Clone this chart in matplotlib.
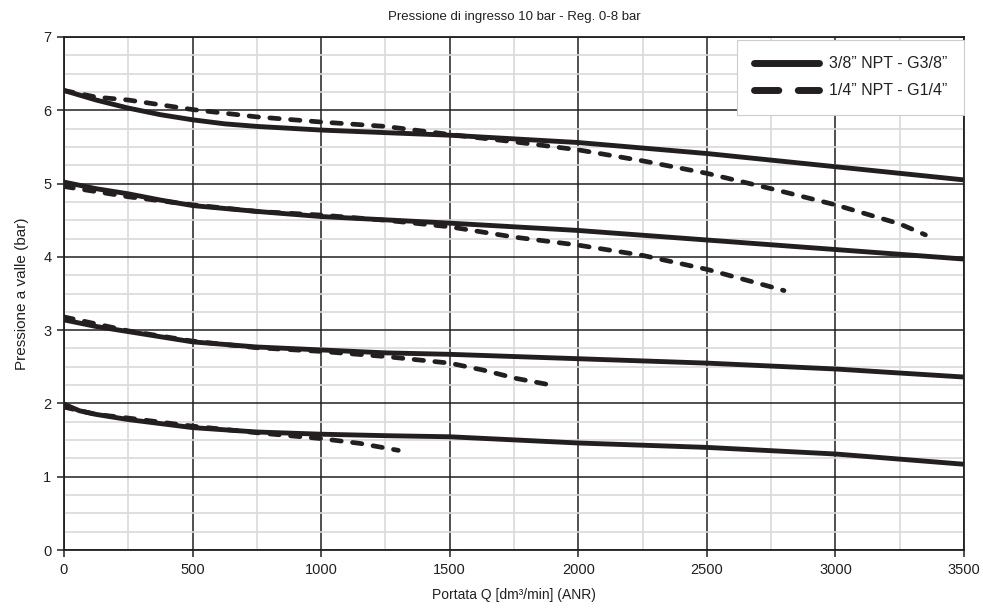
import matplotlib
matplotlib.use("Agg")
import matplotlib.pyplot as plt
from matplotlib.ticker import MultipleLocator

plt.rcParams['font.family'] = ['Liberation Sans', 'DejaVu Sans']

title = "Pressione di ingresso 10 bar - Reg. 0-8 bar"
xlabel = "Portata Q [dm³/min] (ANR)"
ylabel = "Pressione a valle (bar)"
label_38 = "3/8\u201d NPT - G3/8\u201d"
label_14 = "1/4\u201d NPT - G1/4\u201d"

# 3/8" NPT - G3/8" (solid)
s1_x = [0, 125, 250, 375, 500, 625, 750, 1000, 1500, 2000, 2500, 3000, 3500]
s1_y = [6.27, 6.14, 6.03, 5.94, 5.87, 5.815, 5.78, 5.73, 5.66, 5.56, 5.41, 5.23, 5.05]
s2_x = [0, 125, 250, 375, 500, 750, 1000, 1500, 2000, 2500, 3000, 3500]
s2_y = [5.02, 4.93, 4.86, 4.775, 4.70, 4.62, 4.55, 4.46, 4.36, 4.23, 4.10, 3.97]
s3_x = [0, 125, 250, 500, 750, 1000, 1250, 1500, 2000, 2500, 3000, 3500]
s3_y = [3.14, 3.05, 2.98, 2.84, 2.77, 2.73, 2.69, 2.67, 2.61, 2.55, 2.47, 2.36]
s4_x = [0, 60, 125, 250, 500, 750, 1000, 1250, 1500, 2000, 2500, 3000, 3500]
s4_y = [1.99, 1.90, 1.85, 1.78, 1.67, 1.61, 1.58, 1.56, 1.545, 1.46, 1.40, 1.31, 1.17]

# 1/4" NPT - G1/4" (dashed)
d1_x = [0, 125, 250, 500, 750, 1000, 1250, 1500, 1750, 2000, 2250, 2500, 2750, 3000, 3250, 3350]
d1_y = [6.27, 6.18, 6.14, 6.01, 5.91, 5.84, 5.78, 5.67, 5.57, 5.46, 5.31, 5.14, 4.93, 4.71, 4.45, 4.30]
d2_x = [0, 250, 500, 750, 1000, 1250, 1500, 1750, 2000, 2250, 2500, 2750, 2800]
d2_y = [4.96, 4.82, 4.71, 4.62, 4.57, 4.50, 4.41, 4.27, 4.16, 4.02, 3.83, 3.59, 3.54]
d3_x = [0, 250, 500, 750, 1000, 1250, 1500, 1630, 1760, 1880]
d3_y = [3.18, 2.99, 2.85, 2.76, 2.71, 2.64, 2.55, 2.455, 2.34, 2.26]
d4_x = [0, 125, 250, 500, 750, 1000, 1150, 1300]
d4_y = [1.95, 1.85, 1.80, 1.69, 1.60, 1.52, 1.455, 1.36]

solid = [(s1_x, s1_y), (s2_x, s2_y), (s3_x, s3_y), (s4_x, s4_y)]
dashed = [(d1_x, d1_y), (d2_x, d2_y), (d3_x, d3_y), (d4_x, d4_y)]

fig = plt.figure(figsize=(9.83, 6.12), dpi=100)
ax = fig.add_axes([64/983, 62/612, 900/983, 513/612])

ax.set_xlim(0, 3500)
ax.set_ylim(0, 7)
ax.xaxis.set_major_locator(MultipleLocator(500))
ax.xaxis.set_minor_locator(MultipleLocator(250))
ax.yaxis.set_major_locator(MultipleLocator(1))
ax.yaxis.set_minor_locator(MultipleLocator(0.25))

ax.grid(which='minor', color='#d9d9d9', linewidth=1.2, linestyle='-', zorder=0)
ax.grid(which='major', color='#231f20', linewidth=1.1, linestyle='-', zorder=1)
ax.set_axisbelow(True)
ax.tick_params(which='minor', length=0)
ax.tick_params(which='major', length=5, width=1.1, color='#231f20',
               labelsize=10.5, colors='#231f20', pad=4)
for sp in ax.spines.values():
    sp.set_color('#231f20')
    sp.set_linewidth(1.3)

lc = '#231f20'
for i, (x, y) in enumerate(solid):
    ax.plot(x, y, color=lc, linewidth=3.5, solid_capstyle='round',
            solid_joinstyle='round',
            label=label_38 if i == 0 else None, zorder=3)
for i, (x, y) in enumerate(dashed):
    ax.plot(x, y, color=lc, linewidth=3.4, linestyle=(0, (2.0, 2.4)),
            dash_capstyle='round', dash_joinstyle='round',
            label=label_14 if i == 0 else None, zorder=3)

leg = ax.legend(loc='upper right', bbox_to_anchor=(1.0, 0.995), fontsize=11.5,
                frameon=True, fancybox=False, edgecolor='#cccccc',
                framealpha=1.0, handlelength=4.1, handletextpad=0.6,
                borderpad=1.05, labelspacing=0.75, borderaxespad=0.0)
leg.get_frame().set_linewidth(0.8)
handles = leg.get_lines()
handles[0].set_linewidth(5)
handles[1].set_linewidth(5)
handles[1].set_linestyle((0, (3.5, 2.8)))
for t in leg.get_texts():
    t.set_color('#231f20')

ax.set_title(title, fontsize=9.5, color='#231f20', pad=12)
ax.set_xlabel(xlabel, fontsize=10, color='#231f20', labelpad=8)
ax.set_ylabel(ylabel, fontsize=11, color='#231f20', labelpad=10)

fig.savefig("out.png", dpi=100)
